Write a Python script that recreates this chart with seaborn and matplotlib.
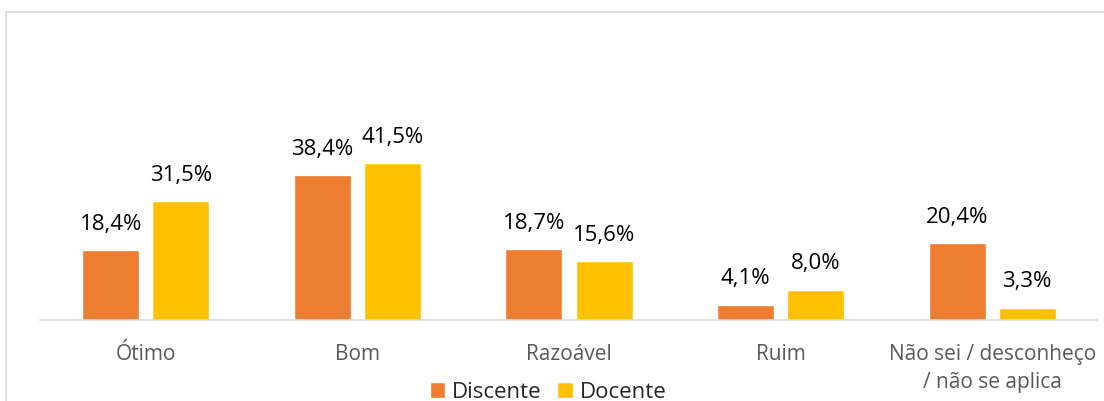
import pandas as pd
import matplotlib.pyplot as plt
import seaborn as sns
from matplotlib.patches import Rectangle, Patch

categories = ["Ótimo", "Bom", "Razoável", "Ruim", "Não sei / desconheço\n/ não se aplica"]
discente = [18.4, 38.4, 18.7, 4.1, 20.4]
docente = [31.5, 41.5, 15.6, 8.0, 3.3]
groups = ["Discente", "Docente"]
colors = ["#ED7D31", "#FFC000"]

df = pd.DataFrame({
    "Categoria": categories * 2,
    "Grupo": [groups[0]] * len(categories) + [groups[1]] * len(categories),
    "Valor": discente + docente,
})

sns.set_style("white")
plt.rcParams["font.family"] = ["Open Sans", "DejaVu Sans"]

fig = plt.figure(figsize=(11.04, 4.01), dpi=100)
ax = fig.add_axes([40 / 1104, 1 - 320 / 401, (1098 - 40) / 1104, 170 / 401])

sns.barplot(data=df, x="Categoria", y="Valor", hue="Grupo", palette=colors,
            width=0.662, gap=0.186, ax=ax, legend=False, saturation=1)

ax.set_ylim(0, 45)
ax.set_xlabel("")
ax.set_ylabel("")
ax.set_yticks([])
for s in ["top", "right", "left"]:
    ax.spines[s].set_visible(False)
ax.spines["bottom"].set_color("#D9D9D9")
ax.spines["bottom"].set_linewidth(1.2)
ax.tick_params(axis="x", length=0, pad=17, labelsize=15, labelcolor="#595959")
for lbl in ax.get_xticklabels():
    lbl.set_linespacing(1.45)

for cont in ax.containers:
    ax.bar_label(cont, labels=[f"{v:.1f}%".replace(".", ",") for v in cont.datavalues],
                 padding=11, fontsize=16, color="#000000")

handles = [Patch(facecolor=c, label=g) for c, g in zip(colors, groups)]
fig.legend(handles=handles, loc="center", bbox_to_anchor=(548 / 1104, 1 - 392 / 401),
           ncol=2, frameon=False, fontsize=16, handlelength=0.7, handleheight=0.7,
           handletextpad=0.3, columnspacing=0.7, borderpad=0)

fig.patches.append(Rectangle((6 / 1104, -0.1), 1.1, 1.1 - 12 / 401, transform=fig.transFigure,
                             fill=False, edgecolor="#D9D9D9", linewidth=1.2))

fig.savefig("out.png", dpi=100)
